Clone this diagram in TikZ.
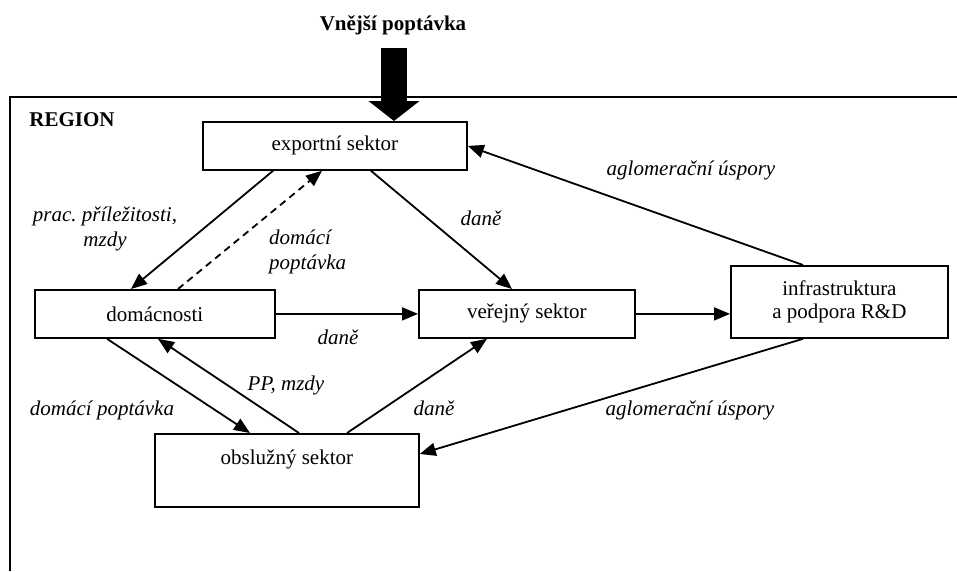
\documentclass[tikz,border=0pt]{standalone}
\usepackage{fontspec}
\setmainfont{Liberation Serif}
\usetikzlibrary{arrows.meta,calc}
\frenchspacing
\begin{document}
\begin{tikzpicture}[x=1pt,y=-1pt,
  font=\fontsize{21}{25}\selectfont,
  box/.style={draw, line width=1.8pt, rectangle, anchor=north west, inner sep=0pt, align=center},
  lbl/.style={inner sep=0pt, font=\fontsize{21}{25}\selectfont\itshape, align=center},
  conn/.style={line width=1.8pt, -{Triangle[length=16pt,width=13pt]}},
  ttl/.style={inner sep=0pt, font=\fontsize{21}{25}\selectfont\bfseries}]
\useasboundingbox (0,0) rectangle (957,571);
% region frame
\coordinate (rbl) at (10,571);
\coordinate (rtl) at (10,97);
\coordinate (rtr) at (957,97);
\draw[line width=1.8pt] (rbl) -- (rtl) -- (rtr);
\node[ttl] (region) at (72,120) {REGION};
\node[ttl] (vn) at (393,25) {Vnější poptávka};
% boxes
\node[box, minimum width=264pt, minimum height=48pt] (exp) at (202,121) {exportní sektor};
\node[box, minimum width=240pt, minimum height=48pt] (dom) at (34,289) {domácnosti};
\node[box, minimum width=216pt, minimum height=48pt] (ver) at (418,289) {veřejný sektor};
\node[box, minimum width=217pt, minimum height=72pt, font=\fontsize{21}{23}\selectfont] (inf) at (730,265) {infrastruktura\\a podpora R\&D};
\node[box, minimum width=264pt, text height=31pt, text depth=42pt] (obs) at (154,433) {obslužný sektor};
% big arrow
\coordinate (vtop) at (394,48);
\draw[line width=26pt, -{Triangle[length=20pt,width=50pt]}] (vtop) -- (vtop |- exp.north);
% connectors
\draw[conn] ($(exp.south west)+(71,0)$) -- ($(dom.north west)+(97,0)$);
\draw[conn, dashed, dash pattern=on 7pt off 5pt] ($(dom.north west)+(144,0)$) -- ($(exp.south west)+(120,0)$);
\draw[conn] ($(exp.south west)+(169,0)$) -- ($(ver.north west)+(94,0)$);
\draw[conn] ($(inf.north west)+(73,0)$) -- (exp.east);
\draw[conn] (dom.east) -- (ver.west);
\draw[conn] (ver.east) -- (ver.east -| inf.west);
\draw[conn] ($(inf.south west)+(73,0)$) -- ($(obs.north east)+(0,21)$);
\draw[conn] ($(dom.south west)+(73,0)$) -- ($(obs.north west)+(96,0)$);
\draw[conn] ($(obs.north west)+(145,0)$) -- ($(dom.south west)+(124,0)$);
\draw[conn] ($(obs.north west)+(193,0)$) -- ($(ver.south west)+(69,0)$);
% labels
\node[lbl] (l1) at (105,229) {prac. příležitosti,\\mzdy};
\node[lbl, anchor=west, align=left] (l2) at (269,252) {domácí\\poptávka};
\node[lbl] (l3) at (481,218) {daně};
\node[lbl] (l4) at (691,170) {aglomerační úspory};
\node[lbl] (l5) at (338,337) {daně};
\node[lbl] (l6) at (286,385) {PP, mzdy};
\node[lbl] (l7) at (102,410) {domácí poptávka};
\node[lbl] (l8) at (434,408) {daně};
\node[lbl] (l9) at (690,410) {aglomerační úspory};
\end{tikzpicture}
\end{document}
